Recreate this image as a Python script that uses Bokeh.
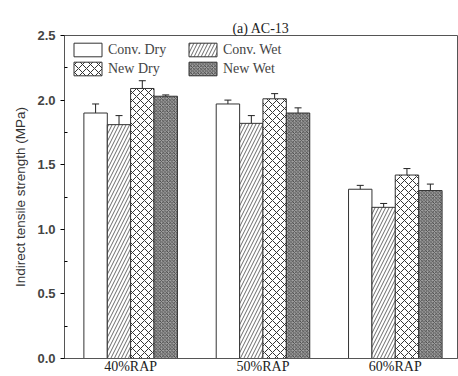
from bokeh.plotting import figure
from bokeh.models import ColumnDataSource, Whisker, FixedTicker, Legend, LegendItem, TeeHead, Range1d
from bokeh.embed import file_html
from bokeh.resources import INLINE

groups = ["40%RAP", "50%RAP", "60%RAP"]
series = ["Conv. Dry", "Conv. Wet", "New Dry", "New Wet"]
conv_dry = [1.90, 1.97, 1.31]
conv_wet = [1.81, 1.82, 1.17]
new_dry = [2.09, 2.01, 1.42]
new_wet = [2.03, 1.90, 1.30]
err_conv_dry = [0.07, 0.03, 0.03]
err_conv_wet = [0.07, 0.06, 0.03]
err_new_dry = [0.06, 0.04, 0.05]
err_new_wet = [0.01, 0.04, 0.05]
y_ticks = [0.0, 0.5, 1.0, 1.5, 2.0, 2.5]

values = [conv_dry, conv_wet, new_dry, new_wet]
errors = [err_conv_dry, err_conv_wet, err_new_dry, err_new_wet]
offsets = [-0.265, -0.088, 0.088, 0.265]
bw = 0.177
styles = [
    dict(fill_color="white", hatch_pattern=None),
    dict(fill_color="white", hatch_pattern="/", hatch_color="#444", hatch_scale=7, hatch_weight=0.8),
    dict(fill_color="white", hatch_pattern="x", hatch_color="#333", hatch_scale=8, hatch_weight=1.0),
    dict(fill_color="#a0a0a0", hatch_pattern="x", hatch_color="#3a3a3a", hatch_scale=3.5, hatch_weight=0.8),
]

p = figure(width=458, height=376, output_backend="svg", toolbar_location=None,
           x_range=Range1d(0.5, 3.47), y_range=Range1d(0, 2.5),
           min_border_left=64, min_border_right=1, min_border_top=35, min_border_bottom=17)
p.background_fill_color = "white"
p.border_fill_color = "white"
p.outline_line_color = "#555555"
p.grid.visible = False

p.title.text = "(a) AC-13"
p.title.align = "center"
p.title.text_font = "Liberation Serif"
p.title.text_font_size = "14px"
p.title.text_font_style = "normal"
p.title.text_color = "#222222"
p.title.standoff = 0

renderers = []
for i, name in enumerate(series):
    xs = [g + 1 + offsets[i] for g in range(len(groups))]
    src = ColumnDataSource(dict(x=xs, top=values[i],
                                upper=[v + e for v, e in zip(values[i], errors[i])],
                                lower=[v - e for v, e in zip(values[i], errors[i])]))
    st = {k: v for k, v in styles[i].items() if v is not None}
    r = p.vbar(x="x", top="top", width=bw, source=src, line_color="#333333", line_width=1, **st)
    renderers.append(r)
    w = Whisker(source=src, base="x", upper="upper", lower="lower", line_color="#222222", line_width=1,
                upper_head=TeeHead(size=7, line_color="#222222"),
                lower_head=TeeHead(size=7, line_color="#222222"))
    p.add_layout(w)

order = [0, 2, 1, 3]
legend = Legend(items=[LegendItem(label=series[k], renderers=[renderers[k]]) for k in order],
                location="top_left", ncols=2, border_line_color=None, background_fill_alpha=0,
                label_text_font="Liberation Serif", label_text_font_size="14px",
                glyph_width=35, glyph_height=17, label_height=17, spacing=2,
                margin=6, padding=3, label_standoff=3, label_width=75)
p.add_layout(legend)

p.xaxis.ticker = FixedTicker(ticks=[1, 2, 3])
p.xaxis.major_label_overrides = {1: groups[0], 2: groups[1], 3: groups[2]}
p.xaxis.major_tick_line_color = None
p.xaxis.minor_tick_line_color = None
p.xaxis.major_tick_out = 0
p.xaxis.major_tick_in = 0
p.xaxis.minor_tick_out = 0
p.xaxis.major_label_text_font = "Liberation Serif"
p.xaxis.major_label_text_font_size = "14px"
p.xaxis.major_label_text_color = "#222222"
p.xaxis.major_label_standoff = 0
p.xaxis.axis_line_color = "#555555"

p.yaxis.ticker = FixedTicker(ticks=y_ticks, minor_ticks=[0.25, 0.75, 1.25, 1.75, 2.25])
p.yaxis.axis_label = "Indirect tensile strength (MPa)"
p.yaxis.axis_label_text_font = "Liberation Sans"
p.yaxis.axis_label_text_font_size = "13.5px"
p.yaxis.axis_label_text_font_style = "normal"
p.yaxis.axis_label_text_color = "#333333"
p.yaxis.axis_label_standoff = 6
p.yaxis.major_label_text_font = "Liberation Sans"
p.yaxis.major_label_text_font_size = "13px"
p.yaxis.major_label_text_font_style = "bold"
p.yaxis.major_label_text_color = "#444444"
p.yaxis.major_tick_out = 4
p.yaxis.major_tick_in = 0
p.yaxis.minor_tick_out = 0
p.yaxis.minor_tick_in = 3
p.yaxis.axis_line_color = "#555555"
p.yaxis.major_label_overrides = {0.0: "0.0", 0.5: "0.5", 1.0: "1.0", 1.5: "1.5", 2.0: "2.0", 2.5: "2.5"}

open("out.html", "w").write(file_html(p, INLINE))
